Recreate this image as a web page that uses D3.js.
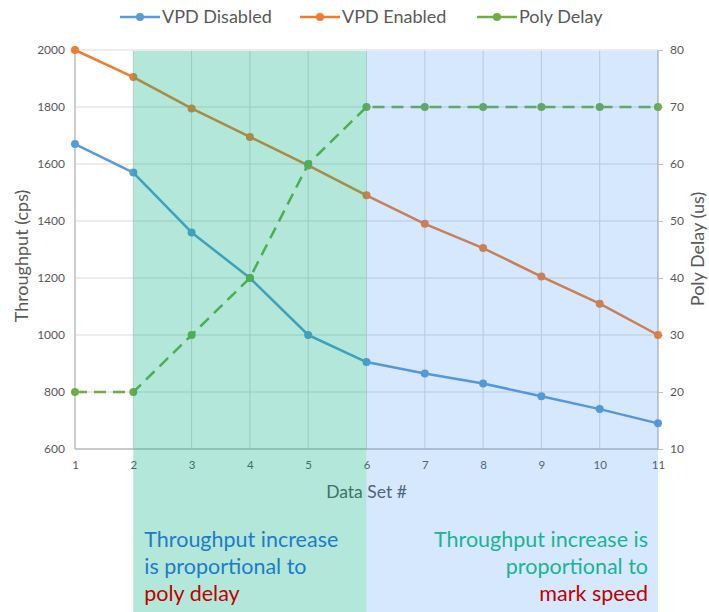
<!DOCTYPE html>
<html><head><meta charset="utf-8">
<script src="https://cdn.jsdelivr.net/npm/d3@7"></script>
<style>body{margin:0;background:#fff}svg{display:block;font-family:Lato,"Open Sans",sans-serif}</style>
</head><body><svg id="c" width="709" height="612"></svg>
<script>
const dataSets = [1,2,3,4,5,6,7,8,9,10,11];
const vpdDisabled = [1670,1570,1360,1200,1000,905,865,830,785,740,690];
const vpdEnabled = [2000,1905,1795,1695,1595,1490,1390,1305,1205,1110,1000];
const polyDelay = [20,20,30,40,60,70,70,70,70,70,70];
const leftTicks = [600,800,1000,1200,1400,1600,1800,2000];
const rightTicks = [10,20,30,40,50,60,70,80];
const seriesNames = ["VPD Disabled","VPD Enabled","Poly Delay"];
const regions = [{from:2,to:6,color:"rgb(0,176,130)",op:0.3},{from:6,to:11,color:"rgb(50,140,245)",op:0.2}];

const svg = d3.select("#c");
const L=75,R=658,T=50,B=449;
const x = d3.scaleLinear().domain([1,11]).range([L,R]);
const yL = d3.scaleLinear().domain([600,2000]).range([B,T]);
const yR = d3.scaleLinear().domain([10,80]).range([B,T]);
const grid="#d9d9d9", txt="#595959";

// gridlines
svg.append("g").selectAll("line").data(leftTicks).join("line")
  .attr("x1",L).attr("x2",R).attr("y1",d=>yL(d)).attr("y2",d=>yL(d)).attr("stroke",grid);
svg.append("g").selectAll("line").data(dataSets).join("line")
  .attr("x1",d=>x(d)).attr("x2",d=>x(d)).attr("y1",T).attr("y2",B).attr("stroke",grid);

// axes
const ax = svg.append("g").attr("transform",`translate(${L},0)`).call(d3.axisLeft(yL).tickValues(leftTicks).tickFormat(d3.format("d")).tickSize(0).tickPadding(10));
const axR = svg.append("g").attr("transform",`translate(${R},0)`).call(d3.axisRight(yR).tickValues(rightTicks).tickSize(5).tickPadding(7));
const axB = svg.append("g").attr("transform",`translate(0,${B})`).call(d3.axisBottom(x).tickValues(dataSets).tickSize(0).tickPadding(12));
[ax,axR,axB].forEach(a=>{
  a.selectAll("path").attr("stroke","#bfbfbf").attr("stroke-width",1.3);
  a.selectAll("line").attr("stroke","#bfbfbf");
  a.selectAll("text").attr("fill",txt).attr("font-size",12).attr("font-family","Lato,sans-serif");
});
axB.selectAll("text").attr("font-size",11.5);
axB.select("path").attr("d",`M${L},0H${R}`);
ax.select("path").attr("d",`M0,${B}V${T}`);
axR.select("path").attr("d",`M0,${B}V${T}`);

// titles
svg.append("text").attr("transform",`translate(28,256) rotate(-90)`).attr("text-anchor","middle")
  .attr("fill",txt).attr("font-size",18).text("Throughput (cps)");
svg.append("text").attr("transform",`translate(704,249) rotate(-90)`).attr("text-anchor","middle")
  .attr("fill",txt).attr("font-size",18).text("Poly Delay (us)");
svg.append("text").attr("x",(L+R)/2).attr("y",498).attr("text-anchor","middle")
  .attr("fill",txt).attr("font-size",17.5).text("Data Set #");

// lines
const colors = ["#5b9bd5","#ed7d31","#70ad47"];
const series = [
  {vals:vpdDisabled,y:yL,c:colors[0],dash:null},
  {vals:vpdEnabled,y:yL,c:colors[1],dash:null},
  {vals:polyDelay,y:yR,c:colors[2],dash:"12,7"}
];
series.forEach(s=>{
  const line=d3.line().x((d,i)=>x(dataSets[i])).y(d=>s.y(d));
  svg.append("path").attr("d",line(s.vals)).attr("fill","none").attr("stroke",s.c).attr("stroke-width",2.5)
    .attr("stroke-dasharray",s.dash).attr("stroke-linejoin","round");
  svg.append("g").selectAll("circle").data(s.vals).join("circle")
    .attr("cx",(d,i)=>x(dataSets[i])).attr("cy",d=>s.y(d)).attr("r",4).attr("fill",s.c);
});

// overlay regions
svg.append("g").selectAll("rect").data(regions).join("rect")
  .attr("x",d=>x(d.from)).attr("width",d=>x(d.to)-x(d.from)).attr("y",T+1).attr("height",612-T-1)
  .attr("fill",d=>d.color).attr("fill-opacity",d=>d.op);

// annotation text
const lt = svg.append("text").attr("font-size",21.5);
[["Throughput increase","#1f7bc8"],["is proportional to","#1f7bc8"],["poly delay","#c00000"]].forEach((t,i)=>{
  lt.append("tspan").attr("x",x(2)+11).attr("y",547+i*27).attr("fill",t[1]).text(t[0]);
});
const rt = svg.append("text").attr("font-size",21.5).attr("text-anchor","end");
[["Throughput increase is","#1ab394"],["proportional to","#1ab394"],["mark speed","#c00000"]].forEach((t,i)=>{
  rt.append("tspan").attr("x",x(11)-10).attr("y",547+i*27).attr("fill",t[1]).text(t[0]);
});

// legend
const lg = svg.append("g");
const lx=[120,300,477];
seriesNames.forEach((n,i)=>{
  const g=lg.append("g").attr("transform",`translate(${lx[i]},17)`);
  g.append("line").attr("x1",0).attr("x2",40).attr("stroke",colors[i]).attr("stroke-width",2.5);
  g.append("circle").attr("cx",20).attr("r",4).attr("fill",colors[i]);
  g.append("text").attr("x",42).attr("y",6).attr("fill",txt).attr("font-size",18).text(n);
});
</script></body></html>
